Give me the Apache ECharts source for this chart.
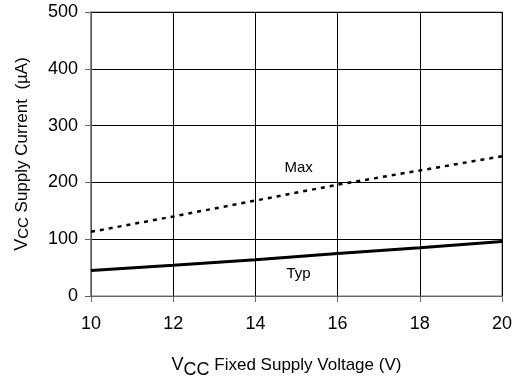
<!DOCTYPE html>
<html>
<head>
<meta charset="utf-8">
<script src="https://cdn.jsdelivr.net/npm/echarts@6/dist/echarts.min.js"></script>
<style>
  html, body { margin: 0; padding: 0; background: #fff; }
  #chart { width: 515px; height: 385px; }
</style>
</head>
<body>
<div id="chart"></div>
<script>
// Supply current vs. fixed supply voltage
const voltages = [10, 12, 14, 16, 18, 20];
const typCurrent = [45, 54, 64, 75, 85, 96];
const maxCurrent = [113, 140, 168, 196, 221, 246];
const xTicks = [10, 12, 14, 16, 18, 20];
const yTicks = [0, 100, 200, 300, 400, 500];

const font = 'Liberation Sans, Arial, sans-serif';

const chart = echarts.init(document.getElementById('chart'), null, { renderer: 'canvas' });

const toPairs = (xs, ys) => xs.map((x, i) => [x, ys[i]]);

chart.setOption({
  animation: false,
  backgroundColor: '#fff',
  textStyle: { fontFamily: font },
  grid: { left: 91, right: 12, top: 12, bottom: 89, show: true, borderColor: '#777', borderWidth: 1 },
  xAxis: {
    type: 'value',
    min: xTicks[0],
    max: xTicks[xTicks.length - 1],
    interval: 2,
    name: '{v|V}{s|CC}{t| Fixed Supply Voltage (V)}',
    nameLocation: 'middle',
    nameGap: 60,
    nameTextStyle: {
      padding: [0, 20, 0, 0],
      rich: {
        v: { fontFamily: font, fontSize: 18, color: '#000', verticalAlign: 'top', padding: [0, 0, 0, 0] },
        s: { fontFamily: font, fontSize: 18, color: '#000', verticalAlign: 'top', padding: [5, 0, 0, 0] },
        t: { fontFamily: font, fontSize: 17, color: '#000', verticalAlign: 'top', padding: [1, 0, 0, 0] }
      }
    },
    axisLine: { lineStyle: { color: '#666', width: 1 } },
    axisTick: { show: true, inside: false, length: 6, lineStyle: { color: '#666' } },
    axisLabel: { color: '#000', fontSize: 18, fontFamily: font, margin: 19 },
    splitLine: { show: true, lineStyle: { color: '#000', width: 1 } }
  },
  yAxis: {
    type: 'value',
    min: yTicks[0],
    max: yTicks[yTicks.length - 1],
    interval: 100,
    name: '{v|V}{s|CC}{t| Supply Current  (µA)}',
    nameLocation: 'middle',
    nameRotate: 90,
    nameGap: 60,
    nameTextStyle: {
      rich: {
        v: { fontFamily: font, fontSize: 18, color: '#000', verticalAlign: 'bottom' },
        s: { fontFamily: font, fontSize: 15, color: '#000', verticalAlign: 'bottom' },
        t: { fontFamily: font, fontSize: 17, color: '#000', verticalAlign: 'bottom' }
      }
    },
    axisLine: { show: true, lineStyle: { color: '#777', width: 1.5 } },
    axisTick: { show: true, inside: false, length: 6, lineStyle: { color: '#666' } },
    axisLabel: { color: '#000', fontSize: 18, fontFamily: font, margin: 13 },
    splitLine: { show: true, lineStyle: { color: '#000', width: 1 } }
  },
  series: [
    {
      name: 'Max',
      type: 'line',
      data: toPairs(voltages, maxCurrent),
      symbol: 'none',
      lineStyle: { color: '#000', width: 2.5, type: [4, 5] },
      markPoint: {
        symbol: 'circle', symbolSize: 0,
        label: { show: true, formatter: 'Max', color: '#000', fontSize: 15, fontFamily: font, position: 'inside' },
        data: [{ coord: [15.05, 225] }]
      }
    },
    {
      name: 'Typ',
      type: 'line',
      data: toPairs(voltages, typCurrent),
      symbol: 'none',
      lineStyle: { color: '#000', width: 3 },
      markPoint: {
        symbol: 'circle', symbolSize: 0,
        label: { show: true, formatter: 'Typ', color: '#000', fontSize: 15, fontFamily: font, position: 'inside' },
        data: [{ coord: [15.05, 39] }]
      }
    }
  ]
});
</script>
</body>
</html>
